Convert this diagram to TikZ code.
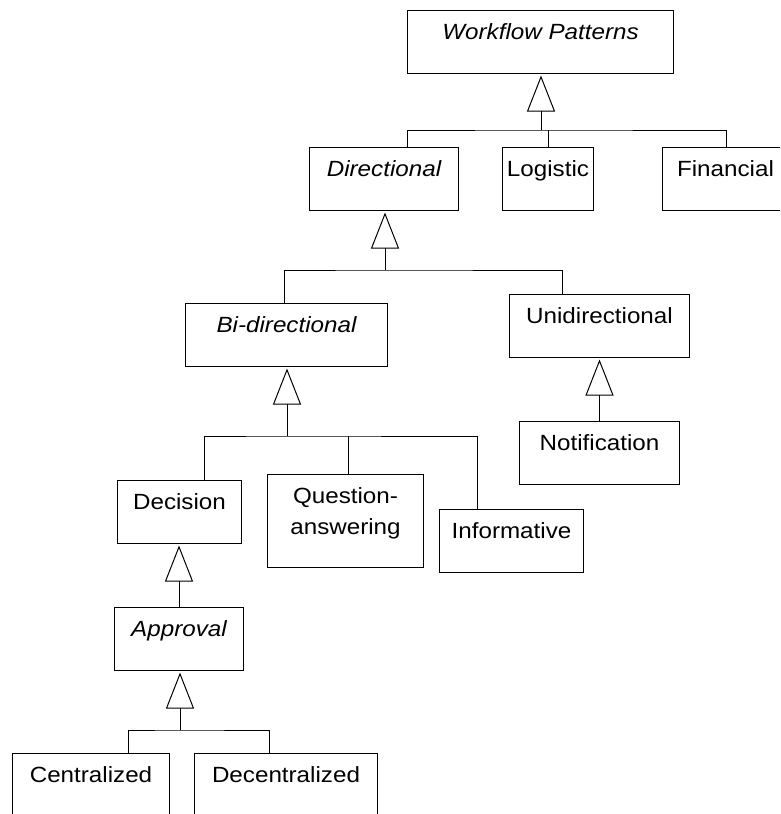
\documentclass[tikz,border=0pt]{standalone}
\usepackage{fontspec}
\setmainfont[FakeStretch=1.1]{Liberation Sans}
\usetikzlibrary{arrows.meta}
\begin{document}
\begin{tikzpicture}[x=1pt,y=-1pt,
  every node/.style={font=\fontsize{22pt}{31pt}\selectfont},
  cls/.style={draw=black, line width=1pt, inner sep=0pt, anchor=north west,
              text height=29pt, text depth=34pt},
  tall/.style={cls, text depth=64pt},
  link/.style={draw=black, line width=1pt},
  gen/.style={link, -{Triangle[open, length=36pt, width=28pt, line width=1pt]}, shorten >=1.5pt}
]
\useasboundingbox (0,0) rectangle (780,814);
\clip (0,0) rectangle (780,814);

% classes
\node[cls, minimum width=266pt] (wp)    at (407,10)  {\itshape Workflow Patterns};
\node[cls, minimum width=149pt] (dir)   at (309,147) {\itshape Directional};
\node[cls, minimum width=91pt]  (log)   at (502,147) {Logistic};
\node[cls, minimum width=126pt] (fin)   at (662,147) {Financial};
\node[cls, minimum width=202pt] (bi)    at (185,303) {\itshape Bi-directional};
\node[cls, minimum width=180pt] (uni)   at (509,294) {Unidirectional};
\node[cls, minimum width=160pt] (noti)  at (519,421) {Notification};
\node[cls, minimum width=124pt] (dec)   at (117,480) {Decision};
\node[tall, minimum width=156pt] (qa)   at (267,474)
  {\begin{tabular}[t]{@{}c@{}}Question-\\answering\end{tabular}};
\node[cls, minimum width=144pt] (inf)   at (439,509) {Informative};
\node[cls, minimum width=129pt] (app)   at (114,607) {\itshape Approval};
\node[cls, minimum width=157pt] (cen)   at (12,753)  {Centralized};
\node[cls, minimum width=183pt] (decen) at (194,753) {Decentralized};

% bus points below each parent
\coordinate (wpbus)  at (541,130);
\coordinate (dirbus) at (385,270);
\coordinate (bibus)  at (287,436);
\coordinate (appbus) at (180,730);

% Workflow Patterns
\draw[gen] (wpbus) -- (wpbus |- wp.south);
\draw[link] ([xshift=98pt]dir.north west) |- (wpbus) -| ([xshift=64pt]fin.north west);
\draw[link] (log.north) -- (log.north |- wpbus);

% Directional
\draw[gen] (dirbus) -- (dirbus |- dir.south);
\draw[link] ([xshift=99pt]bi.north west) |- (dirbus) -| ([xshift=53pt]uni.north west);

% Unidirectional
\draw[gen] (noti.north) -- (noti.north |- uni.south);

% Bi-directional
\draw[gen] (bibus) -- (bibus |- bi.south);
\draw[link] ([xshift=87pt]dec.north west) |- (bibus) -| ([xshift=38pt]inf.north west);
\draw[link] ([xshift=81pt]qa.north west) -- ([xshift=81pt]qa.north west |- bibus);

% Decision
\draw[gen] (app.north) -- (app.north |- dec.south);

% Approval
\draw[gen] (appbus) -- (appbus |- app.south);
\draw[link] ([xshift=116pt]cen.north west) |- (appbus) -| ([xshift=75pt]decen.north west);
\end{tikzpicture}
\end{document}
